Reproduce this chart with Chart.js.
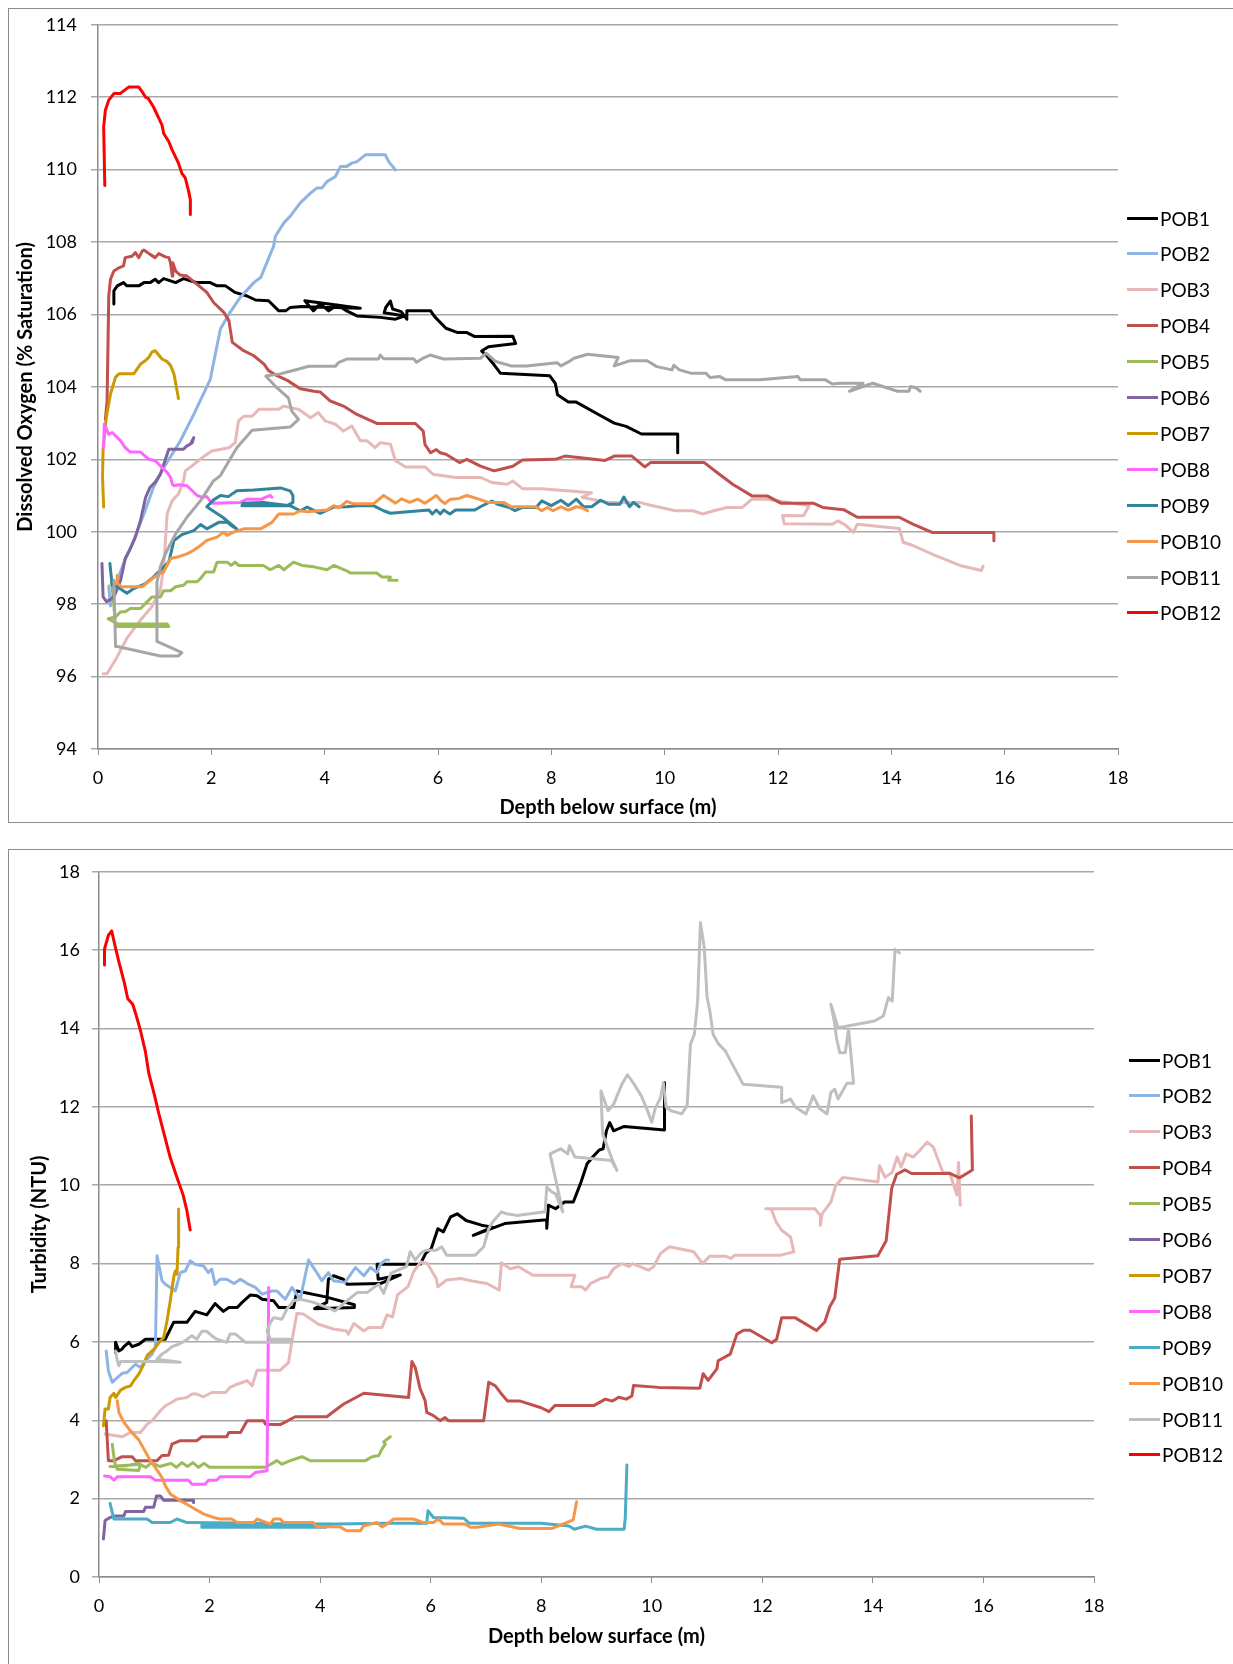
<!DOCTYPE html>
<html>
<head>
<meta charset="utf-8">
<script src="https://cdn.jsdelivr.net/npm/chart.js@4/dist/chart.umd.min.js"></script>
<style>
  body { margin: 0; background: #fff; width: 1233px; height: 1664px; overflow: hidden; position: relative; font-family: Lato, sans-serif; }
  .frame { position: absolute; border: 1px solid #8c8c8c; }
  #frameDo { left: 8px; top: 8px; width: 1240px; height: 813px; }
  #frameTb { left: 8px; top: 849px; width: 1240px; height: 830px; }
  canvas { position: absolute; left: 0; }
  #doChart { top: 0; }
  #tbChart { top: 849px; }
  .legend { position: absolute; font-size: 19px; color: #000; }
  .legend-item { position: absolute; left: 0; height: 36px; display: flex; align-items: center; white-space: nowrap; }
  .legend-line { width: 31px; height: 3px; margin-right: 2px; }
</style>
</head>
<body>
<div class="frame" id="frameDo"></div>
<div class="frame" id="frameTb"></div>
<canvas id="doChart" width="1233" height="822"></canvas>
<canvas id="tbChart" width="1233" height="815"></canvas>
<div class="legend" id="doLegend" style="left:1127px;top:200px"></div>
<div class="legend" id="tbLegend" style="left:1129px;top:1042px"></div>
<script>
// ─── DATA ──────────────────────────────────
const seriesNames = ['POB1', 'POB2', 'POB3', 'POB4', 'POB5', 'POB6', 'POB7', 'POB8', 'POB9', 'POB10', 'POB11', 'POB12'];
const depthTicks = [0, 2, 4, 6, 8, 10, 12, 14, 16, 18];
const doTicks = [94, 96, 98, 100, 102, 104, 106, 108, 110, 112, 114];
const tbTicks = [0, 2, 4, 6, 8, 10, 12, 14, 16, 18];

// dissolved oxygen (% saturation) vs depth (m)
const do1Depth = [0.28,0.28,0.34,0.45,0.51,0.72,0.81,0.92,1.01,1.07,1.16,1.28,1.37,1.51,1.63,1.75,1.98,2.10,2.25,2.42,2.63,2.78,3.01,3.19,3.31,3.39,3.60,4.63,3.65,3.80,3.92,4.07,4.22,4.39,4.57,4.98,5.25,5.42,5.05,5.08,5.16,5.20,5.35,5.45,5.45,5.87,5.94,6.14,6.35,6.51,6.65,7.32,7.37,6.89,6.77,6.85,6.99,7.10,7.97,8.07,8.11,8.30,8.44,8.84,9.11,9.32,9.59,10.23,10.23];
const do1Sat = [106.29,106.65,106.79,106.88,106.79,106.79,106.88,106.88,106.97,106.88,106.99,106.93,106.88,106.99,106.93,106.88,106.88,106.79,106.79,106.61,106.51,106.40,106.38,106.10,106.10,106.19,106.22,106.17,106.38,106.10,106.30,106.10,106.26,106.10,105.96,105.92,105.87,105.96,106.05,106.20,106.37,106.15,106.08,105.87,106.10,106.10,105.94,105.62,105.50,105.50,105.39,105.40,105.20,105.11,104.99,104.88,104.61,104.38,104.31,104.10,103.78,103.58,103.58,103.23,103.00,102.91,102.70,102.70,102.18];
const do2Depth = [0.19,0.22,0.28,0.34,0.45,0.63,0.81,0.98,1.16,1.45,1.69,1.98,2.16,2.33,2.51,2.75,2.87,2.98,3.10,3.13,3.28,3.39,3.57,3.75,3.86,3.95,4.04,4.19,4.28,4.39,4.48,4.57,4.72,5.07,5.13,5.25];
const do2Sat = [98.5,97.95,98.3,98.66,99.12,99.76,100.49,101.23,101.77,102.5,103.24,104.2,105.6,106.06,106.47,106.88,107.02,107.43,107.89,108.16,108.53,108.71,109.08,109.35,109.49,109.49,109.67,109.81,110.09,110.09,110.18,110.22,110.41,110.41,110.22,109.99];
const do3Depth = [0.09,0.16,0.34,0.51,0.75,0.95,1.10,1.16,1.19,1.22,1.31,1.42,1.51,1.54,1.66,1.84,2.01,2.31,2.42,2.48,2.57,2.72,2.84,3.19,3.28,3.54,3.75,3.89,4.01,4.19,4.33,4.48,4.63,4.75,4.89,4.98,5.16,5.25,5.43,5.77,5.91,6.31,6.75,6.95,7.22,7.32,7.49,7.83,8.71,8.54,8.71,9.01,9.55,9.75,10.19,10.50,10.67,10.87,11.10,11.37,11.54,11.81,12.55,12.45,12.08,12.11,12.96,13.06,13.20,13.33,13.40,14.14,14.21,14.38,14.75,15.21,15.59,15.62];
const do3Sat = [96.08,96.08,96.55,97.06,97.56,97.93,98.39,99.03,99.76,100.49,100.86,101.04,101.41,101.68,101.82,102.05,102.23,102.32,102.46,103.06,103.19,103.19,103.38,103.38,103.47,103.38,103.15,103.29,103.06,102.97,102.78,102.92,102.51,102.51,102.32,102.46,102.42,101.96,101.79,101.79,101.59,101.50,101.50,101.36,101.31,101.40,101.19,101.19,101.08,100.95,100.90,100.81,100.81,100.73,100.58,100.58,100.49,100.58,100.67,100.67,100.90,100.90,100.72,100.44,100.45,100.22,100.21,100.30,100.17,99.98,100.21,100.09,99.71,99.62,99.36,99.07,98.93,99.05];
const do4Depth = [0.13,0.16,0.19,0.22,0.28,0.37,0.45,0.48,0.60,0.66,0.72,0.78,0.81,0.92,1.01,1.07,1.19,1.25,1.28,1.31,1.32,1.37,1.45,1.57,1.75,1.92,2.04,2.22,2.31,2.37,2.57,2.75,2.93,3.01,3.16,3.34,3.57,3.81,3.92,4.10,4.33,4.57,4.92,5.60,5.74,5.77,5.87,5.97,6.04,6.14,6.38,6.51,6.75,6.99,7.09,7.32,7.49,8.07,8.24,8.95,9.11,9.25,9.42,9.65,9.75,10.70,10.93,11.20,11.54,11.81,12.05,12.62,12.79,13.16,13.40,14.14,14.38,14.72,15.81,15.81];
const do4Sat = [103.1,103.6,106.51,106.97,107.2,107.29,107.34,107.57,107.61,107.71,107.57,107.75,107.78,107.66,107.57,107.68,107.59,107.57,107.43,107.06,107.43,107.2,107.09,107.06,106.83,106.61,106.33,106.06,105.83,105.23,105.0,104.86,104.63,104.45,104.31,104.18,103.95,103.88,103.86,103.61,103.47,103.24,102.99,102.99,102.78,102.41,102.18,102.27,102.18,102.14,101.91,102.0,101.81,101.68,101.72,101.81,101.98,102.0,102.09,101.97,102.09,102.09,102.09,101.79,101.91,101.91,101.63,101.31,100.99,100.99,100.79,100.79,100.67,100.61,100.40,100.40,100.21,99.98,99.98,99.75];
const do5Depth = [0.24,0.28,0.30,0.34,1.25,1.22,0.35,0.18,0.31,0.40,0.48,0.57,0.75,0.87,0.95,1.10,1.16,1.28,1.37,1.51,1.57,1.75,1.81,1.90,2.04,2.10,2.28,2.35,2.42,2.48,2.92,3.04,3.19,3.28,3.45,3.60,3.81,4.04,4.16,4.39,4.45,4.92,5.01,5.16,5.13,5.28];
const do5Sat = [98.6,98.0,97.5,97.38,97.38,97.45,97.45,97.6,97.65,97.79,97.79,97.88,97.88,98.07,98.2,98.2,98.37,98.37,98.48,98.52,98.62,98.62,98.71,98.89,98.89,99.16,99.16,99.07,99.16,99.07,99.07,98.95,99.07,98.95,99.16,99.07,99.03,98.95,99.07,98.92,98.86,98.86,98.75,98.75,98.66,98.66];
const do6Depth = [0.07,0.09,0.15,0.25,0.31,0.40,0.48,0.57,0.66,0.75,0.84,0.92,1.01,1.10,1.19,1.25,1.51,1.57,1.63,1.69,1.66];
const do6Sat = [99.12,98.2,98.07,98.16,98.3,98.66,99.26,99.53,99.85,100.31,100.95,101.23,101.37,101.59,102.0,102.28,102.28,102.37,102.42,102.6,102.45];
const do7Depth = [0.10,0.08,0.09,0.15,0.22,0.31,0.37,0.63,0.75,0.84,0.90,0.95,1.01,1.13,1.22,1.28,1.34,1.42];
const do7Sat = [100.68,101.5,102.3,103.2,103.8,104.27,104.36,104.36,104.63,104.73,104.82,104.96,105.0,104.77,104.7,104.59,104.36,103.68];
const do8Depth = [0.10,0.11,0.13,0.19,0.25,0.40,0.48,0.57,0.75,0.90,1.01,1.10,1.22,1.28,1.31,1.34,1.42,1.57,1.75,1.84,1.92,2.01,2.51,2.63,2.89,2.95,3.04,3.07];
const do8Sat = [102.32,102.97,102.9,102.69,102.74,102.51,102.32,102.2,102.2,102.0,101.96,101.82,101.64,101.5,101.32,101.27,101.3,101.27,101.0,100.95,100.97,100.79,100.81,100.9,100.9,100.95,101.0,100.95];
const do9Depth = [0.21,0.25,0.34,0.51,0.63,0.84,0.95,1.10,1.25,1.34,1.48,1.69,1.81,1.92,2.13,2.28,2.39,2.45,2.20,1.92,2.04,2.16,2.30,2.45,2.75,3.22,3.39,3.44,3.44,3.34,2.54,2.56,2.92,3.39,3.57,3.69,3.92,4.16,4.39,4.57,4.86,5.04,5.16,5.84,5.90,5.97,6.04,6.10,6.21,6.31,6.65,6.75,6.95,7.05,7.26,7.36,7.49,7.73,7.83,8.00,8.17,8.30,8.44,8.57,8.71,8.87,9.01,9.21,9.28,9.38,9.45,9.55];
const do9Sat = [99.12,98.52,98.48,98.3,98.43,98.57,98.71,98.94,99.16,99.76,99.92,100.03,100.2,100.08,100.26,100.26,100.13,100.08,100.4,100.69,100.88,101.0,100.97,101.13,101.15,101.21,101.13,101.0,100.81,100.72,100.72,100.79,100.81,100.72,100.58,100.68,100.51,100.68,100.69,100.72,100.72,100.58,100.51,100.6,100.49,100.6,100.49,100.6,100.49,100.6,100.6,100.69,100.85,100.76,100.67,100.58,100.67,100.67,100.85,100.72,100.87,100.72,100.9,100.69,100.69,100.87,100.76,100.76,100.96,100.69,100.81,100.69];
const do10Depth = [0.34,0.34,0.42,0.78,0.92,1.04,1.16,1.28,1.40,1.57,1.69,1.81,1.92,2.10,2.22,2.28,2.39,2.57,2.87,3.07,3.19,3.45,3.57,3.69,4.04,4.16,4.25,4.39,4.51,4.86,5.04,5.25,5.36,5.50,5.64,5.77,5.97,6.05,6.12,6.22,6.37,6.51,6.72,6.89,7.16,7.29,7.73,7.83,7.93,8.03,8.17,8.30,8.44,8.54,8.64];
const do10Sat = [98.8,98.57,98.48,98.48,98.66,98.8,98.89,99.26,99.3,99.39,99.49,99.62,99.76,99.85,99.99,99.9,99.99,100.08,100.08,100.26,100.49,100.49,100.58,100.55,100.6,100.72,100.66,100.84,100.77,100.77,101.0,100.79,100.91,100.81,100.9,100.79,101.0,100.86,100.78,100.9,100.92,101.0,100.9,100.81,100.81,100.69,100.69,100.58,100.67,100.58,100.69,100.6,100.69,100.66,100.58];
const do11Depth = [0.28,0.31,0.34,1.10,1.42,1.48,1.04,1.04,1.10,1.19,1.28,1.37,1.57,1.81,2.04,2.16,2.28,2.45,2.72,3.39,3.54,3.42,3.36,3.16,2.96,3.22,3.34,3.51,3.72,4.19,4.25,4.39,4.95,4.98,5.04,5.22,5.57,5.62,5.72,5.86,6.10,6.75,6.85,7.02,7.29,7.56,8.10,8.17,8.30,8.40,8.64,9.18,9.11,9.38,9.69,9.86,10.13,10.16,10.26,10.46,10.73,10.80,10.97,11.07,11.68,12.35,12.39,12.83,12.96,13.09,13.50,13.26,13.67,14.11,14.31,14.34,14.44,14.51];
const do11Sat = [98.66,96.83,96.83,96.57,96.57,96.66,96.97,98.6,99.03,99.39,99.67,99.94,100.4,100.86,101.41,101.55,101.87,102.32,102.8,102.89,103.1,103.33,103.7,103.97,104.3,104.36,104.41,104.48,104.57,104.57,104.68,104.77,104.77,104.88,104.78,104.78,104.78,104.68,104.78,104.88,104.77,104.79,104.93,104.7,104.58,104.58,104.67,104.58,104.69,104.79,104.9,104.81,104.58,104.72,104.72,104.56,104.47,104.6,104.47,104.38,104.38,104.26,104.29,104.2,104.2,104.29,104.2,104.2,104.08,104.1,104.1,103.88,104.1,103.88,103.88,104.01,103.97,103.88];
const do12Depth = [0.12,0.10,0.13,0.19,0.28,0.39,0.54,0.72,0.78,0.84,0.89,0.98,1.13,1.16,1.25,1.31,1.42,1.48,1.54,1.60,1.63,1.63];
const do12Sat = [109.56,111.18,111.64,111.92,112.1,112.1,112.28,112.28,112.15,112.0,111.96,111.73,111.23,111.0,110.77,110.54,110.18,109.9,109.77,109.4,109.17,108.76];

// turbidity (NTU) vs depth (m)
const tb1Depth = [0.30,0.30,0.36,0.42,0.45,0.54,0.60,0.72,0.84,1.20,1.35,1.59,1.74,1.95,2.10,2.25,2.35,2.50,2.59,2.74,2.86,2.95,3.16,3.25,3.52,3.58,4.10,4.62,4.62,3.90,4.12,4.15,4.24,4.42,4.49,5.09,5.45,5.05,5.03,5.81,5.91,6.01,6.10,6.13,6.23,6.36,6.48,6.64,6.92,7.12,6.77,7.34,8.10,8.10,8.13,8.26,8.42,8.58,8.71,8.83,8.93,9.05,9.12,9.18,9.24,9.31,9.50,10.23,10.23];
const tb1Ntu = [5.73,5.99,5.77,5.82,5.88,5.99,5.88,5.94,6.07,6.07,6.5,6.5,6.78,6.69,6.98,6.78,6.88,6.88,7.01,7.2,7.18,7.09,7.05,6.88,6.88,7.3,7.15,6.95,6.88,6.85,7.01,7.6,7.69,7.6,7.47,7.49,7.71,7.6,7.98,7.98,8.26,8.38,8.76,8.89,8.81,9.19,9.27,9.1,8.98,8.93,8.72,9.02,9.12,8.9,9.49,9.4,9.57,9.57,10.04,10.55,10.72,10.9,10.93,11.39,11.6,11.39,11.5,11.41,12.62];
const tb2Depth = [0.13,0.17,0.24,0.33,0.42,0.51,0.57,0.66,0.75,0.84,0.96,1.02,1.05,1.14,1.20,1.29,1.38,1.47,1.56,1.65,1.74,1.89,1.98,2.04,2.10,2.19,2.31,2.44,2.56,2.68,2.83,2.95,3.13,3.22,3.37,3.49,3.64,3.79,3.94,4.03,4.15,4.24,4.45,4.64,4.79,4.91,5.03,5.09,5.18,5.24];
const tb2Ntu = [5.77,5.26,4.97,5.09,5.2,5.22,5.31,5.43,5.35,5.52,5.69,5.86,8.2,7.56,7.47,7.39,7.3,7.77,7.81,8.07,7.98,7.94,7.77,7.86,7.47,7.6,7.6,7.49,7.6,7.49,7.39,7.22,7.3,7.3,7.09,7.39,7.09,8.09,7.77,7.56,7.77,7.56,7.52,7.9,7.69,7.9,7.77,7.98,8.09,8.09];
const tb3Depth = [0.11,0.42,0.57,0.75,0.87,0.96,1.11,1.20,1.32,1.41,1.59,1.68,1.77,1.89,2.04,2.29,2.37,2.50,2.68,2.77,2.86,3.28,3.43,3.49,3.58,3.70,3.97,4.24,4.48,4.51,4.61,4.79,4.88,5.12,5.21,5.31,5.40,5.59,5.69,5.82,5.94,6.10,6.13,6.29,6.55,6.80,7.02,7.24,7.28,7.44,7.59,7.85,8.61,8.54,8.73,8.80,8.89,9.08,9.21,9.31,9.46,9.59,9.65,9.94,10.03,10.16,10.32,10.76,10.92,11.05,11.33,11.43,11.50,12.32,12.57,12.51,12.35,12.25,12.16,12.06,12.95,13.05,13.05,13.08,13.24,13.33,13.46,14.09,14.12,14.22,14.35,14.44,14.51,14.60,14.73,14.85,14.98,15.09,15.27,15.39,15.48,15.52,15.55,15.58];
const tb3Ntu = [3.65,3.58,3.69,3.69,3.9,3.99,4.24,4.37,4.46,4.54,4.58,4.67,4.67,4.6,4.71,4.71,4.84,4.92,5.01,4.88,5.28,5.28,5.48,6.03,6.73,6.71,6.45,6.33,6.28,6.2,6.47,6.28,6.37,6.37,6.69,6.64,7.2,7.41,7.79,8.04,8.0,7.62,7.41,7.58,7.62,7.54,7.49,7.32,8.02,7.87,7.92,7.7,7.7,7.41,7.41,7.32,7.49,7.62,7.66,7.87,8.0,7.92,8.0,7.83,7.92,8.26,8.43,8.3,8.0,8.19,8.19,8.13,8.21,8.21,8.3,8.68,8.85,9.06,9.4,9.4,9.4,9.23,8.98,9.27,9.57,10.0,10.2,10.08,10.5,10.2,10.33,10.72,10.46,10.8,10.72,10.89,11.1,10.98,10.32,10.32,9.92,9.75,10.58,9.49];
const tb4Depth = [0.13,0.17,0.27,0.42,0.60,0.66,1.05,1.14,1.26,1.32,1.47,1.77,1.86,2.31,2.35,2.56,2.68,2.98,3.01,3.16,3.28,3.55,4.12,4.42,4.79,5.60,5.66,5.72,5.81,5.90,5.93,6.05,6.17,6.26,6.32,6.96,7.05,7.17,7.26,7.39,7.62,8.00,8.14,8.25,8.96,9.16,9.29,9.40,9.54,9.64,9.67,10.12,10.87,10.93,11.02,11.18,11.20,11.42,11.54,11.66,11.78,12.17,12.26,12.35,12.59,12.98,13.13,13.22,13.31,13.40,14.09,14.24,14.34,14.43,14.58,14.70,15.39,15.57,15.80,15.78];
const tb4Ntu = [3.99,2.97,2.97,3.07,3.07,2.97,2.97,3.1,3.11,3.39,3.48,3.48,3.58,3.58,3.69,3.69,3.99,3.99,3.9,3.89,3.89,4.09,4.09,4.41,4.69,4.58,5.5,5.35,4.8,4.5,4.2,4.12,3.99,4.07,3.99,3.99,4.97,4.88,4.71,4.49,4.49,4.32,4.22,4.38,4.38,4.54,4.49,4.59,4.54,4.62,4.89,4.84,4.82,5.19,5.02,5.32,5.52,5.69,6.2,6.3,6.3,5.98,6.07,6.62,6.62,6.29,6.51,6.9,7.12,8.11,8.2,8.58,9.92,10.28,10.39,10.3,10.3,10.19,10.39,11.77];
const tb5Depth = [0.24,0.28,0.33,0.72,0.75,0.20,0.50,0.70,0.85,0.95,1.10,1.30,1.40,1.50,1.60,1.70,1.80,1.90,2.00,3.01,3.22,3.31,3.46,3.67,3.82,4.82,4.94,5.06,5.12,5.18,5.15,5.27];
const tb5Ntu = [3.39,2.95,2.75,2.72,2.88,2.82,2.84,2.9,2.8,2.92,2.82,2.9,2.8,2.92,2.82,2.92,2.8,2.9,2.8,2.8,2.97,2.88,2.97,3.07,2.97,2.97,3.07,3.1,3.27,3.39,3.45,3.58];
const tb6Depth = [0.08,0.11,0.20,0.30,0.45,0.48,0.81,0.84,0.99,1.04,1.11,1.17,1.71,1.71];
const tb6Ntu = [0.97,1.44,1.52,1.56,1.56,1.67,1.67,1.78,1.78,2.07,2.07,1.96,1.96,1.9];
const tb7Depth = [0.08,0.11,0.17,0.20,0.27,0.30,0.39,0.48,0.57,0.63,0.72,0.81,0.87,0.96,1.02,1.11,1.17,1.23,1.29,1.35,1.38,1.41,1.43,1.44];
const tb7Ntu = [3.86,4.29,4.29,4.58,4.69,4.58,4.77,4.84,4.88,5.01,5.18,5.43,5.65,5.77,5.86,6.03,6.11,6.54,7.05,7.64,7.81,7.73,8.41,9.39];
const tb8Depth = [0.10,0.20,0.27,0.33,0.93,1.02,1.62,1.68,1.92,1.98,2.13,2.19,2.74,2.83,3.04,3.07];
const tb8Ntu = [2.58,2.56,2.47,2.56,2.56,2.47,2.47,2.37,2.37,2.47,2.47,2.56,2.56,2.67,2.71,7.39];
const tb9Depth = [0.20,0.27,0.87,0.96,1.29,1.41,1.59,2.50,3.20,4.20,4.10,1.86,1.86,3.00,4.30,5.20,5.93,5.95,6.05,6.60,6.70,8.00,8.50,8.60,8.80,9.00,9.50,9.52,9.55];
const tb9Ntu = [1.88,1.48,1.48,1.39,1.39,1.48,1.39,1.38,1.36,1.35,1.27,1.27,1.32,1.32,1.35,1.37,1.37,1.69,1.52,1.5,1.37,1.37,1.3,1.22,1.3,1.22,1.22,1.5,2.86];
const tb10Depth = [0.33,0.36,0.45,0.57,0.72,0.81,0.93,1.05,1.14,1.20,1.29,1.47,1.68,1.89,2.07,2.19,2.40,2.50,2.80,2.86,3.10,3.16,3.28,3.34,3.88,3.94,4.36,4.48,4.73,4.79,5.03,5.12,5.21,5.33,5.69,5.87,6.05,6.14,6.23,6.62,6.72,6.84,7.23,7.62,8.20,8.39,8.58,8.64];
const tb10Ntu = [4.5,4.2,3.95,3.73,3.5,3.27,2.97,2.73,2.54,2.33,2.12,1.95,1.78,1.61,1.52,1.48,1.48,1.39,1.39,1.48,1.35,1.48,1.48,1.39,1.39,1.28,1.28,1.18,1.18,1.31,1.39,1.28,1.35,1.48,1.48,1.39,1.39,1.48,1.35,1.35,1.27,1.27,1.35,1.24,1.24,1.35,1.46,1.92];
const tb11Depth = [0.30,0.33,0.36,0.39,1.05,1.47,1.05,1.14,1.23,1.32,1.44,1.56,1.68,1.77,1.86,1.95,2.04,2.13,2.31,2.37,2.47,2.65,3.49,3.49,3.10,3.04,3.10,3.16,3.31,3.40,3.52,3.64,3.88,4.12,4.27,4.45,4.67,4.85,4.97,5.06,5.15,5.28,5.40,5.56,5.63,5.72,5.82,5.91,6.10,6.20,6.29,6.80,6.96,7.05,7.12,7.28,7.37,7.56,8.07,8.10,8.19,8.26,8.32,8.39,8.16,8.35,8.48,8.51,8.61,9.27,9.37,9.30,9.11,9.08,9.21,9.31,9.46,9.56,9.68,9.81,9.91,10.00,10.06,10.16,10.21,10.26,10.35,10.54,10.64,10.70,10.77,10.83,10.88,10.95,11.00,11.05,11.11,11.21,11.33,11.65,12.35,12.35,12.51,12.60,12.79,12.92,13.04,13.17,13.24,13.31,13.37,13.53,13.65,13.62,13.56,13.50,13.40,13.34,13.31,13.24,13.37,14.03,14.19,14.28,14.35,14.40,14.48];
const tb11Ntu = [5.77,5.52,5.39,5.5,5.5,5.48,5.56,5.69,5.77,5.88,5.94,6.03,6.16,6.07,6.27,6.27,6.16,6.07,5.99,6.2,6.2,5.99,5.99,6.07,6.07,6.28,6.5,6.62,6.58,6.84,7.05,7.09,7.01,6.88,6.79,7.01,7.26,7.26,7.39,7.47,7.24,7.75,7.83,7.92,8.3,8.09,8.26,8.34,8.34,8.43,8.21,8.21,8.43,8.89,9.06,9.32,9.27,9.23,9.32,9.95,9.83,9.78,9.57,9.32,10.8,10.93,10.8,11.01,10.72,10.63,10.38,10.6,11.31,12.41,11.9,12.07,12.58,12.82,12.58,12.28,11.95,11.61,11.95,12.24,12.62,11.99,11.9,11.82,12.03,13.6,13.85,14.7,16.7,16.06,14.8,14.45,13.85,13.6,13.43,12.58,12.5,12.11,12.2,11.99,11.82,12.28,11.95,11.82,12.37,12.45,12.2,12.6,12.6,13.09,13.98,13.38,13.38,13.77,14.11,14.62,14.02,14.19,14.32,14.79,14.7,16.02,15.93];
const tb12Depth = [0.10,0.10,0.17,0.23,0.29,0.36,0.46,0.52,0.61,0.67,0.75,0.84,0.90,1.00,1.09,1.19,1.29,1.42,1.52,1.59,1.65];
const tb12Ntu = [15.62,16.03,16.38,16.49,16.11,15.7,15.16,14.76,14.62,14.35,13.95,13.41,12.86,12.32,11.78,11.24,10.7,10.16,9.76,9.35,8.86];

// ─── STYLE ──────────────────────────────────
const doColors = ['#000000', '#8EB4E3', '#E6B9B8', '#C0504D', '#9BBB59', '#8064A2', '#CC9900', '#FF66FF', '#31849B', '#F79646', '#A6A6A6', '#FF0000'];
const tbColors = ['#000000', '#8EB4E3', '#E6B9B8', '#C0504D', '#9BBB59', '#8064A2', '#CC9900', '#FF66FF', '#4BACC6', '#F79646', '#BFBFBF', '#FF0000'];
const FONT = 'Lato';

const doSeries = [
  [do1Depth, do1Sat], [do2Depth, do2Sat], [do3Depth, do3Sat], [do4Depth, do4Sat],
  [do5Depth, do5Sat], [do6Depth, do6Sat], [do7Depth, do7Sat], [do8Depth, do8Sat],
  [do9Depth, do9Sat], [do10Depth, do10Sat], [do11Depth, do11Sat], [do12Depth, do12Sat],
];
const tbSeries = [
  [tb1Depth, tb1Ntu], [tb2Depth, tb2Ntu], [tb3Depth, tb3Ntu], [tb4Depth, tb4Ntu],
  [tb5Depth, tb5Ntu], [tb6Depth, tb6Ntu], [tb7Depth, tb7Ntu], [tb8Depth, tb8Ntu],
  [tb9Depth, tb9Ntu], [tb10Depth, tb10Ntu], [tb11Depth, tb11Ntu], [tb12Depth, tb12Ntu],
];

function toPoints(depths, values) {
  const n = Math.min(depths.length, values.length);
  const pts = [];
  for (let i = 0; i < n; i++) pts.push({ x: depths[i], y: values[i] });
  return pts;
}

function buildDatasets(series, colors) {
  return series.map(([d, v], i) => ({
    label: seriesNames[i],
    data: toPoints(d, v),
    showLine: true,
    borderColor: colors[i],
    backgroundColor: colors[i],
    borderWidth: 3,
    borderJoinStyle: 'round',
    borderCapStyle: 'round',
    pointRadius: 0,
    tension: 0,
    fill: false,
    order: series.length - i,   // later series drawn on top, like the original
  }));
}

function buildProfileChart(canvasId, cfg) {
  const ctx = document.getElementById(canvasId).getContext('2d');
  return new Chart(ctx, {
    type: 'scatter',
    data: { datasets: buildDatasets(cfg.series, cfg.colors) },
    options: {
      responsive: false,
      animation: false,
      events: [],
      layout: { padding: { left: 0, top: cfg.padTop, right: cfg.padRight, bottom: 0 } },
      plugins: { legend: { display: false }, tooltip: { enabled: false } },
      scales: {
        x: {
          type: 'linear', min: 0, max: 18,
          afterBuildTicks: s => { s.ticks = depthTicks.map(v => ({ value: v })); },
          afterFit: s => { s.height = cfg.xHeight; },
          grid: { drawOnChartArea: false, drawTicks: true, tickLength: 6, color: '#8c8c8c' },
          border: { color: '#8c8c8c', width: 1.5 },
          ticks: { color: '#000', padding: cfg.xTickPad, maxRotation: 0, font: { family: FONT, size: 18 } },
          title: {
            display: true, text: 'Depth below surface (m)', color: '#000',
            font: { family: FONT, size: 20, weight: 'bold' },
            padding: { top: 0, bottom: cfg.xTitlePad },
          },
        },
        y: {
          type: 'linear', min: cfg.yTicks[0], max: cfg.yTicks[cfg.yTicks.length - 1],
          afterBuildTicks: s => { s.ticks = cfg.yTicks.map(v => ({ value: v })); },
          afterFit: s => { s.width = cfg.yWidth; },
          grid: { drawOnChartArea: true, drawTicks: true, tickLength: 7, color: '#a8a8a8', lineWidth: 1.5 },
          border: { color: '#8c8c8c', width: 1.5 },
          ticks: { color: '#000', padding: cfg.yTickPad, font: { family: FONT, size: 18 } },
          title: {
            display: true, text: cfg.yTitle, color: '#000',
            font: { family: FONT, size: 20, weight: 'bold' },
            padding: { top: cfg.yTitlePad, bottom: 0 },
          },
        },
      },
    },
  });
}

function renderLegend(elId, colors) {
  const el = document.getElementById(elId);
  el.innerHTML = seriesNames.map((name, i) => `
    <div class="legend-item" style="top:${(i * 35.9).toFixed(1)}px">
      <span class="legend-line" style="background:${colors[i]}"></span>
      <span>${name}</span>
    </div>
  `).join('');
}

buildProfileChart('doChart', {
  series: doSeries, colors: doColors, yTicks: doTicks,
  yTitle: 'Dissolved Oxygen (% Saturation)',
  padTop: 21, padRight: 115, xHeight: 73, yWidth: 98,
  xTickPad: 12, xTitlePad: 2, yTickPad: 14, yTitlePad: 14,
});
buildProfileChart('tbChart', {
  series: tbSeries, colors: tbColors, yTicks: tbTicks,
  yTitle: 'Turbidity (NTU)',
  padTop: 21, padRight: 139, xHeight: 87, yWidth: 99,
  xTickPad: 12, xTitlePad: 15, yTickPad: 12, yTitlePad: 28,
});
renderLegend('doLegend', doColors);
renderLegend('tbLegend', tbColors);
</script>
</body>
</html>
